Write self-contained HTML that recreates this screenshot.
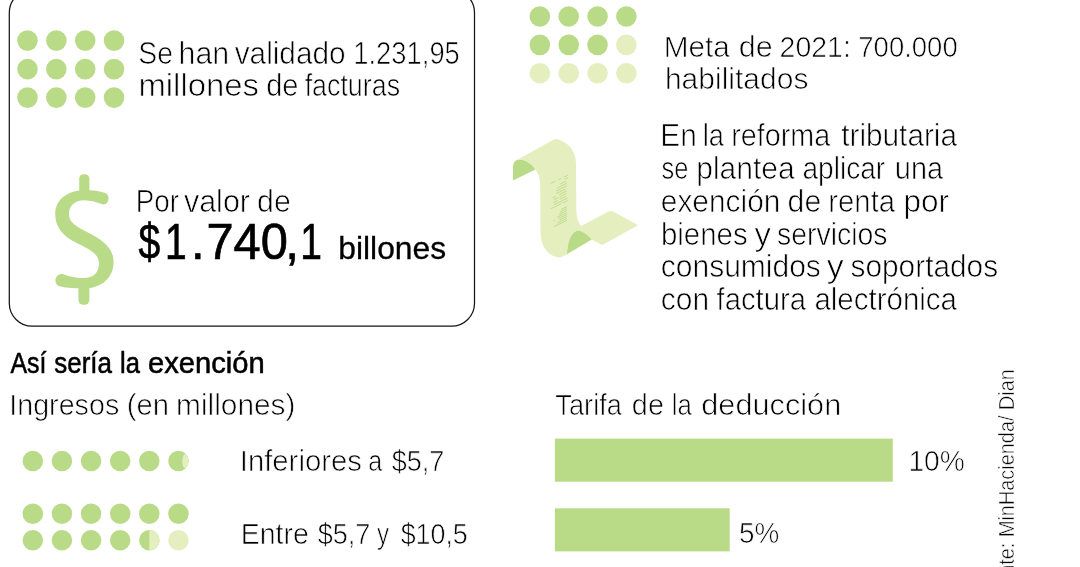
<!DOCTYPE html>
<html lang="es"><head><meta charset="utf-8"><title>Factura electrónica</title>
<style>
html,body{margin:0;padding:0;background:#fff;}
body{width:1080px;height:567px;overflow:hidden;font-family:"Liberation Sans",sans-serif;}
svg{display:block;will-change:transform;}
text{font-family:"Liberation Sans",sans-serif;fill:#000;}
.lt{stroke:#fff;stroke-width:0.72px;}
.rg{stroke:#000;stroke-width:0.3px;}
.bg{stroke:#000;stroke-width:0.7px;}
.lt2{stroke:#fff;stroke-width:0.55px;}
.sb{stroke:#000;stroke-width:0.55px;}
</style></head><body>
<svg width="1080" height="567" viewBox="0 0 1080 567">
<rect width="1080" height="567" fill="#fff"/>
<rect x="9.3" y="-10.3" width="465.2" height="336.5" rx="23" ry="23" fill="none" stroke="#151515" stroke-width="1.25"/>
<circle cx="27.50" cy="40.60" r="10.3" fill="#b9db88"/><circle cx="56.35" cy="40.60" r="10.3" fill="#b9db88"/><circle cx="85.20" cy="40.60" r="10.3" fill="#b9db88"/><circle cx="114.05" cy="40.60" r="10.3" fill="#b9db88"/><circle cx="27.50" cy="69.10" r="10.3" fill="#b9db88"/><circle cx="56.35" cy="69.10" r="10.3" fill="#b9db88"/><circle cx="85.20" cy="69.10" r="10.3" fill="#b9db88"/><circle cx="114.05" cy="69.10" r="10.3" fill="#b9db88"/><circle cx="27.50" cy="97.60" r="10.3" fill="#b9db88"/><circle cx="56.35" cy="97.60" r="10.3" fill="#b9db88"/><circle cx="85.20" cy="97.60" r="10.3" fill="#b9db88"/><circle cx="114.05" cy="97.60" r="10.3" fill="#b9db88"/>
<circle cx="539.85" cy="16.50" r="10.3" fill="#b9db88"/><circle cx="568.70" cy="16.50" r="10.3" fill="#b9db88"/><circle cx="597.55" cy="16.50" r="10.3" fill="#b9db88"/><circle cx="626.40" cy="16.50" r="10.3" fill="#b9db88"/><circle cx="539.85" cy="44.85" r="10.3" fill="#b9db88"/><circle cx="568.70" cy="44.85" r="10.3" fill="#b9db88"/><circle cx="597.55" cy="44.85" r="10.3" fill="#b9db88"/><circle cx="626.40" cy="44.85" r="10.3" fill="#e5eebf"/><circle cx="539.85" cy="73.20" r="10.3" fill="#e5eebf"/><circle cx="568.70" cy="73.20" r="10.3" fill="#e5eebf"/><circle cx="597.55" cy="73.20" r="10.3" fill="#e5eebf"/><circle cx="626.40" cy="73.20" r="10.3" fill="#e5eebf"/>
<g fill="#b9db88">
<path d="M103.6 192.4 C97 190.5 90 190.3 84 190.3 C67 190.5 55.2 200 55.2 214 C55.2 228 64 236.5 75.3 242.3 C88 248.8 99 253 99 263.5 C99 273 93 278 84 278 C75 278 67.5 276.2 62.6 274 A6.4 6.4 0 0 0 60.4 286.6 C67 288 75 288.5 84 288.5 C101 288.5 113.6 278 113.6 262 C113.6 247 101 239 88 232.4 C77 227 68.9 223 68.9 214 C68.9 206 75 200.3 84 200.3 C91 200.3 97 202.5 103.2 204.6 A6.2 6.2 0 0 0 103.6 192.4 Z"/>
<rect x="79.2" y="174.2" width="10.2" height="22" rx="4.5"/>
<rect x="78.4" y="282" width="11" height="22.8" rx="4.8"/>
</g>
<g>
<path d="M513 180.6 L513 167.5 C513 162.5 515.5 159.6 519 159.6 C526 159.8 532 164 535.4 169.6 Z" fill="#b9db88"/>
<path d="M517.5 159.7 L551.5 140.8 C554 139.3 557 138.8 560 140 C570 144 576 152 576 164 L576.3 208 C576.3 217 578 222.5 581.2 225.9 L608.5 211.6 Q610.9 210.4 613.3 211.6 L638 225.3 L602.2 245.1 L591.7 239.5 C586.5 233.5 581 229.8 576.3 231 C570.5 233 567.2 244 567 254.3 L560.2 257.4 C550 257.4 540.6 248 540.5 232 L540.2 186 C540.2 178 538.5 173.5 535.2 169.5 C532 164 526 159.8 519 159.6 Z" fill="#e5eebf"/>
<path d="M567 254.3 C567.2 244 570.5 233 576.3 231 C581 229.8 586.5 233.5 591.7 239.5 Z" fill="#b9db88"/>
</g>
<path d="M550.89 183.43L555.47 181.23M558.34 179.86L561.20 178.48M563.50 177.38L568.08 175.18M564.64 179.35L568.08 177.70M560.06 184.07L566.13 181.16M557.19 187.97L566.93 183.30M556.05 191.04L566.93 185.82M556.05 193.56L565.79 188.89M552.61 197.74L555.47 196.36M558.91 194.71L566.59 191.02M553.75 199.71L558.34 197.51M559.71 196.85L566.59 193.55M553.18 202.50L557.77 200.30M559.71 199.37L566.13 196.29M553.75 204.75L567.51 198.15M550.89 208.65L561.20 203.70M562.69 202.98L567.74 200.56M561.20 209.43L566.93 206.68M560.06 211.93L566.93 208.62M558.91 214.42L566.93 210.57M557.19 217.20L566.93 212.52M553.75 220.80L555.47 219.97M558.34 218.60L566.93 214.47M559.48 219.99L566.93 216.42M557.19 223.04L566.93 218.37M553.75 226.64L566.93 220.32" stroke="#b9db88" stroke-width="1" opacity="0.9" fill="none"/>
<circle cx="32.80" cy="461" r="10.25" fill="#b9db88"/><circle cx="61.93" cy="461" r="10.25" fill="#b9db88"/><circle cx="91.06" cy="461" r="10.25" fill="#b9db88"/><circle cx="120.19" cy="461" r="10.25" fill="#b9db88"/><circle cx="149.32" cy="461" r="10.25" fill="#b9db88"/><circle cx="178.45" cy="461" r="10.25" fill="#b9db88"/><circle cx="32.80" cy="513.7" r="10.25" fill="#b9db88"/><circle cx="61.93" cy="513.7" r="10.25" fill="#b9db88"/><circle cx="91.06" cy="513.7" r="10.25" fill="#b9db88"/><circle cx="120.19" cy="513.7" r="10.25" fill="#b9db88"/><circle cx="149.32" cy="513.7" r="10.25" fill="#b9db88"/><circle cx="178.45" cy="513.7" r="10.25" fill="#b9db88"/><circle cx="32.80" cy="540.3" r="10.25" fill="#b9db88"/><circle cx="61.93" cy="540.3" r="10.25" fill="#b9db88"/><circle cx="91.06" cy="540.3" r="10.25" fill="#b9db88"/><circle cx="120.19" cy="540.3" r="10.25" fill="#b9db88"/><circle cx="149.32" cy="540.3" r="10.25" fill="#b9db88"/><circle cx="178.45" cy="540.3" r="10.25" fill="#e5eebf"/>
<clipPath id="c1"><circle cx="178.45" cy="461" r="10.25"/></clipPath>
<ellipse cx="185.35" cy="461.1" rx="3.1" ry="7.2" fill="#e5eebf" clip-path="url(#c1)"/>
<clipPath id="c2"><circle cx="149.32" cy="540.3" r="10.25"/></clipPath>
<rect x="149.32" y="528" width="12" height="25" fill="#e5eebf" clip-path="url(#c2)"/>
<rect x="554.9" y="438.6" width="337.9" height="43.1" fill="#b9db88"/>
<rect x="554.9" y="508.3" width="174.8" height="43.1" fill="#b9db88"/>
<g transform="translate(138.37,63.65) scale(0.8943,1)"><text class="lt" font-size="31.77">Se</text></g><g transform="translate(178.57,63.65) scale(0.9566,1)"><text class="lt" font-size="31.77">han</text></g><g transform="translate(234.70,63.65) scale(0.9374,1)"><text class="lt" font-size="31.77">validado</text></g><g transform="translate(353.30,63.65) scale(0.8617,1)"><text class="lt" font-size="31.77">1.231,95</text></g>
<g transform="translate(138.41,95.85) scale(1.0353,1)"><text class="lt" font-size="31.77">millones</text></g><g transform="translate(266.14,95.85) scale(0.9137,1)"><text class="lt" font-size="31.77">de</text></g><g transform="translate(304.64,95.85) scale(0.8447,1)"><text class="lt" font-size="31.77">facturas</text></g>
<g transform="translate(135.78,212.15) scale(0.8751,1)"><text class="lt" font-size="31.77">Por</text></g><g transform="translate(183.90,212.15) scale(0.9604,1)"><text class="lt" font-size="31.77">valor</text></g><g transform="translate(257.09,212.15) scale(0.9535,1)"><text class="lt" font-size="31.77">de</text></g>
<g transform="translate(138.51,259.20) scale(0.7922,1)"><text class="bg" font-size="49.3">$</text></g><g transform="translate(165.12,259.20) scale(0.7915,1)"><text class="bg" font-size="49.3">1</text></g><g transform="translate(191.11,259.20) scale(0.9961,1)"><text class="bg" font-size="49.3">.</text></g><g transform="translate(206.46,259.20) scale(0.9898,1)"><text class="bg" font-size="49.3">740</text></g><g transform="translate(285.26,259.20) scale(0.9961,1)"><text class="bg" font-size="49.3">,</text></g><g transform="translate(300.32,259.20) scale(0.7915,1)"><text class="bg" font-size="49.3">1</text></g>
<g transform="translate(338.28,259.20) scale(1.0266,1)"><text class="rg" font-size="31.0">billones</text></g>
<g transform="translate(663.72,56.95) scale(0.9843,1)"><text class="lt" font-size="30.24">Meta</text></g><g transform="translate(738.78,56.95) scale(1.0113,1)"><text class="lt" font-size="30.24">de</text></g><g transform="translate(779.58,56.95) scale(0.9416,1)"><text class="lt" font-size="30.24">2021:</text></g><g transform="translate(858.32,56.95) scale(0.9095,1)"><text class="lt" font-size="30.24">700.000</text></g>
<g transform="translate(664.90,89.25) scale(0.9928,1)"><text class="lt" font-size="30.24">habilitados</text></g>
<g transform="translate(660.32,146.45) scale(0.9537,1)"><text class="lt" font-size="31.26">En</text></g><g transform="translate(702.79,146.45) scale(0.8700,1)"><text class="lt" font-size="31.26">la</text></g><g transform="translate(731.18,146.45) scale(0.9199,1)"><text class="lt" font-size="31.26">reforma</text></g><g transform="translate(841.20,146.45) scale(0.9531,1)"><text class="lt" font-size="31.26">tributaria</text></g>
<g transform="translate(661.52,179.45) scale(0.8139,1)"><text class="lt" font-size="31.26">se</text></g><g transform="translate(696.20,179.45) scale(0.9597,1)"><text class="lt" font-size="31.26">plantea</text></g><g transform="translate(802.48,179.45) scale(0.8976,1)"><text class="lt" font-size="31.26">aplicar</text></g><g transform="translate(894.87,179.45) scale(0.9239,1)"><text class="lt" font-size="31.26">una</text></g>
<g transform="translate(660.81,212.15) scale(0.9556,1)"><text class="lt" font-size="31.26">exención</text></g><g transform="translate(787.59,212.15) scale(0.9659,1)"><text class="lt" font-size="31.26">de</text></g><g transform="translate(828.35,212.15) scale(0.9366,1)"><text class="lt" font-size="31.26">renta</text></g><g transform="translate(903.50,212.15) scale(1.0088,1)"><text class="lt" font-size="31.26">por</text></g>
<g transform="translate(660.93,244.75) scale(0.9428,1)"><text class="lt" font-size="31.26">bienes</text></g><g transform="translate(754.50,244.75) scale(1.0494,1)"><text class="lt" font-size="31.26">y</text></g><g transform="translate(777.04,244.75) scale(0.9095,1)"><text class="lt" font-size="31.26">servicios</text></g>
<g transform="translate(660.80,277.15) scale(0.9603,1)"><text class="lt" font-size="31.26">consumidos</text></g><g transform="translate(826.69,277.15) scale(1.0819,1)"><text class="lt" font-size="31.26">y</text></g><g transform="translate(850.50,277.15) scale(0.9551,1)"><text class="lt" font-size="31.26">soportados</text></g>
<g transform="translate(660.80,310.45) scale(0.9576,1)"><text class="lt" font-size="31.26">con</text></g><g transform="translate(716.51,310.45) scale(0.9366,1)"><text class="lt" font-size="31.26">factura</text></g><g transform="translate(814.42,310.45) scale(0.9437,1)"><text class="lt" font-size="31.26">alectrónica</text></g>
<g transform="translate(10.42,372.60) scale(0.8713,1)"><text class="sb" font-size="28.6">Así</text></g><g transform="translate(54.31,372.60) scale(0.9073,1)"><text class="sb" font-size="28.6">sería</text></g><g transform="translate(120.10,372.60) scale(0.8921,1)"><text class="sb" font-size="28.6">la</text></g><g transform="translate(148.04,372.60) scale(1.0193,1)"><text class="sb" font-size="28.6">exención</text></g>
<g transform="translate(9.22,414.65) scale(0.9492,1)"><text class="lt" font-size="30.24">Ingresos</text></g><g transform="translate(126.75,414.65) scale(0.9644,1)"><text class="lt" font-size="30.24">(en</text></g><g transform="translate(176.11,414.65) scale(0.9861,1)"><text class="lt" font-size="30.24">millones)</text></g>
<g transform="translate(239.76,471.05) scale(0.9691,1)"><text class="lt" font-size="30.24">Inferiores</text></g><g transform="translate(368.32,471.05) scale(0.8304,1)"><text class="lt" font-size="30.24">a</text></g><g transform="translate(391.73,471.05) scale(0.8939,1)"><text class="lt" font-size="30.24">$5,7</text></g>
<g transform="translate(240.63,543.95) scale(0.9424,1)"><text class="lt" font-size="30.24">Entre</text></g><g transform="translate(317.73,543.95) scale(0.8957,1)"><text class="lt" font-size="30.24">$5,7</text></g><g transform="translate(377.01,543.95) scale(0.7987,1)"><text class="lt" font-size="30.24">y</text></g><g transform="translate(400.63,543.95) scale(0.8881,1)"><text class="lt" font-size="30.24">$10,5</text></g>
<g transform="translate(555.37,414.95) scale(0.8993,1)"><text class="lt" font-size="30.24">Tarifa</text></g><g transform="translate(631.85,414.95) scale(0.9535,1)"><text class="lt" font-size="30.24">de</text></g><g transform="translate(671.68,414.95) scale(0.8529,1)"><text class="lt" font-size="30.24">la</text></g><g transform="translate(701.27,414.95) scale(1.0158,1)"><text class="lt" font-size="30.24">deducción</text></g>
<g transform="translate(908.44,470.95) scale(0.9326,1)"><text class="lt" font-size="30.24">10%</text></g>
<g transform="translate(738.98,543.45) scale(0.9221,1)"><text class="lt" font-size="30.24">5%</text></g>
<g transform="translate(1014.4,610.09) rotate(-90) scale(0.9042,1)"><text class="lt2" font-size="22.0">Fuente: MinHacienda/ Dian</text></g>
</svg>
</body></html>
